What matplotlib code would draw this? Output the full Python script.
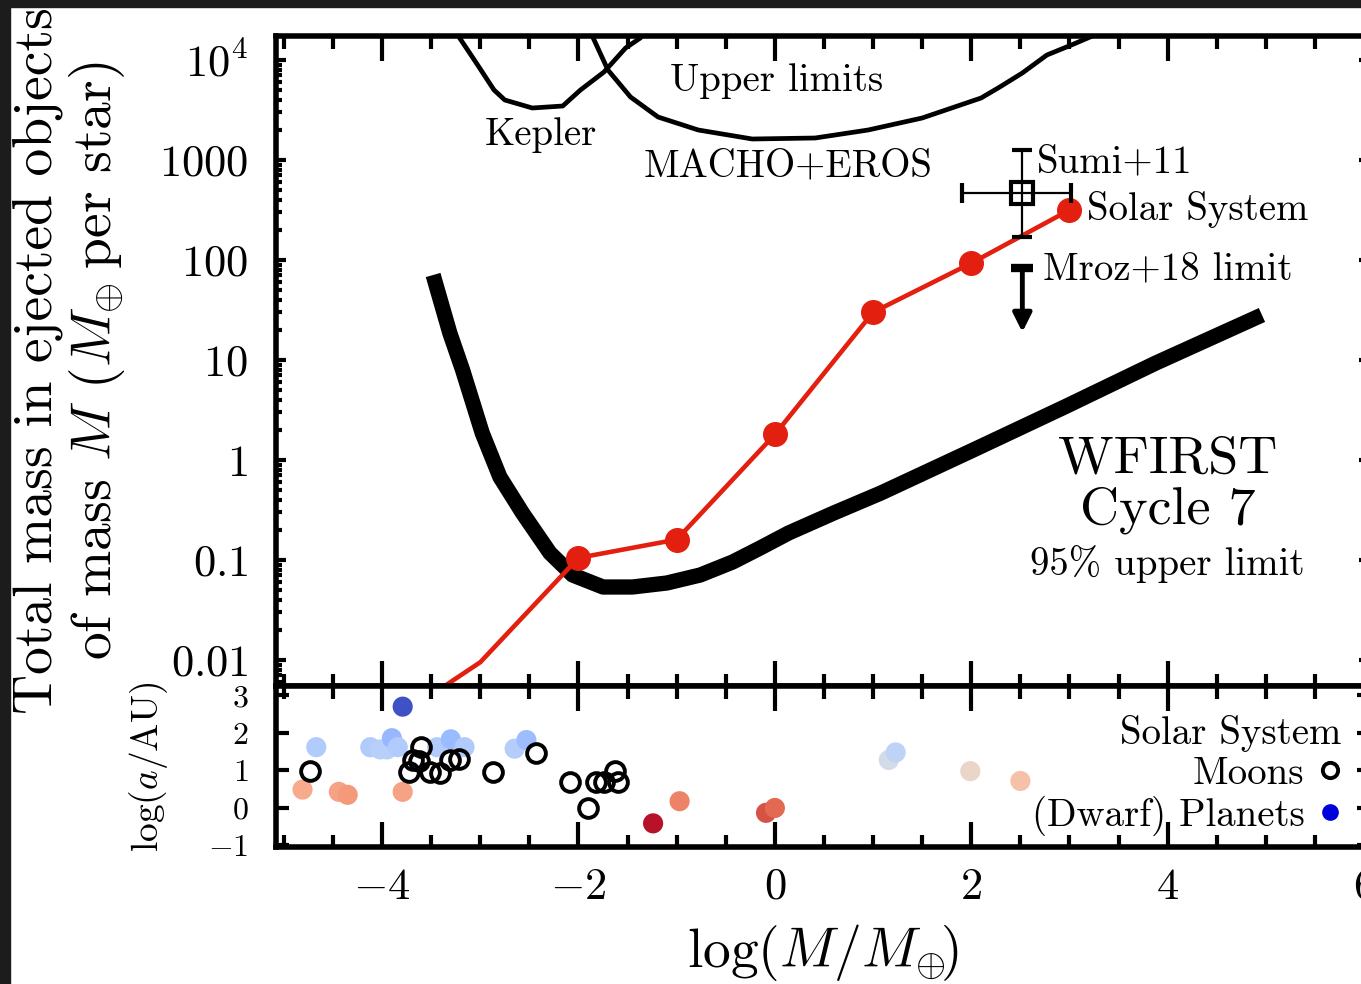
import numpy as np
import matplotlib
matplotlib.use('Agg')
import matplotlib.pyplot as plt
from matplotlib.ticker import FixedLocator, FixedFormatter, LogLocator, NullFormatter, MultipleLocator, FuncFormatter
from matplotlib.lines import Line2D
from matplotlib.patches import Rectangle
from matplotlib.colors import Normalize

plt.rcParams['font.family'] = 'cmr10'
plt.rcParams['mathtext.fontset'] = 'cm'
plt.rcParams['axes.unicode_minus'] = False

# ---- upper panel data: log10(M/Mearth) vs log10(total mass)
kepler_logm = [-3.28, -3.21, -3.04, -2.86, -2.75, -2.47, -2.16, -1.98, -1.74, -1.52, -1.37, -1.30]
kepler_logy = [4.32, 4.22, 3.97, 3.70, 3.60, 3.52, 3.54, 3.70, 3.88, 4.12, 4.22, 4.32]

macho_logm = [-1.90, -1.85, -1.70, -1.47, -1.19, -0.78, -0.23, 0.41, 0.95, 1.50, 2.10, 2.29, 2.52, 2.77, 3.02, 3.21, 3.30]
macho_logy = [4.32, 4.22, 3.90, 3.63, 3.43, 3.30, 3.21, 3.22, 3.30, 3.42, 3.62, 3.73, 3.87, 4.05, 4.15, 4.23, 4.28]

wfirst_logm = [-3.48, -3.31, -3.18, -2.98, -2.80, -2.57, -2.29, -2.06, -1.75, -1.45,
               -1.10, -0.76, -0.43, -0.15, 0.14, 0.60, 1.08, 2.02, 2.95, 3.88, 4.96]
wfirst_logy = [1.85, 1.27, 0.90, 0.27, -0.17, -0.53, -0.93, -1.15, -1.27, -1.27,
               -1.23, -1.15, -1.02, -0.88, -0.73, -0.53, -0.33, 0.10, 0.53, 0.97, 1.45]

ss_logm = [-4, -3, -2, -1, 0, 1, 2, 3]
ss_mass = [0.0021, 0.0095, 0.105, 0.16, 1.8, 30, 93, 316]

sumi_logm, sumi_mass = 2.52, 470
sumi_xerr = [[0.61], [0.50]]
sumi_yerr = [[300], [790]]

mroz_logm, mroz_top, mroz_tip = 2.52, 83, 19

# ---- lower panel data: log mass vs log semimajor axis (AU)
planet_logm = [-1.24, -0.09, 0.0, -0.97, 2.50, 1.99, 1.16, 1.23,
               -4.81, -4.44, -4.35, -3.79, -3.79, -2.65, -2.53,
               -4.67, -4.12, -4.02, -3.95, -3.90, -3.84, -3.44, -3.30, -3.16]
planet_loga = [-0.41, -0.13, 0.0, 0.18, 0.72, 0.98, 1.28, 1.48,
               0.49, 0.43, 0.35, 0.43, 2.70, 1.58, 1.81,
               1.62, 1.62, 1.56, 1.56, 1.86, 1.62, 1.62, 1.83, 1.62]

moon_logm = [-4.73, -3.73, -3.51, -3.41, -3.69, -3.62, -3.31, -3.22, -3.60,
             -2.87, -2.43, -2.09, -1.90, -1.82, -1.74, -1.63, -1.60]
moon_loga = [0.98, 0.97, 0.97, 0.94, 1.28, 1.24, 1.28, 1.30, 1.63,
             0.97, 1.46, 0.70, 0.01, 0.70, 0.70, 0.99, 0.70]

red = '#e3200f'

fig = plt.figure(figsize=(13.61, 9.84), dpi=100)
W, H = 1361., 984.
left, right = 276 / W, 1369 / W
ax1 = fig.add_axes([left, 1 - 686 / H, right - left, (686 - 36) / H])
ax2 = fig.add_axes([left, 1 - 847 / H, right - left, (847 - 686) / H])

# upper panel
ax1.set_yscale('log')
ax1.plot(kepler_logm, 10 ** np.array(kepler_logy), color='k', lw=3.4)
ax1.plot(macho_logm, 10 ** np.array(macho_logy), color='k', lw=3.4)
ax1.plot(wfirst_logm, 10 ** np.array(wfirst_logy), color='k', lw=11,
         solid_capstyle='butt', solid_joinstyle='round')
ax1.plot(ss_logm, ss_mass, color=red, lw=3.3, marker='o', ms=17, markevery=list(range(2, 8)), zorder=5)
ax1.errorbar(sumi_logm, sumi_mass, xerr=sumi_xerr, yerr=sumi_yerr, fmt='s', mfc='none', mec='k',
             ms=16, mew=3, ecolor='k', elinewidth=1.6, capsize=7, capthick=1.6, zorder=6)
ax1.plot([mroz_logm], [mroz_top], marker='_', ms=16, mew=6, color='k')
ax1.annotate('', xy=(mroz_logm, mroz_tip), xytext=(mroz_logm, mroz_top),
             arrowprops=dict(arrowstyle='-|>', lw=3.5, color='k', mutation_scale=28, shrinkA=0, shrinkB=0))

fs = 28
ax1.text(-1.07, 10 ** 3.69, 'Upper limits', fontsize=fs, va='baseline')
ax1.text(-2.95, 10 ** 3.15, 'Kepler', fontsize=fs, va='baseline')
ax1.text(-1.34, 10 ** 2.84, 'MACHO+EROS', fontsize=fs, va='baseline')
ax1.text(2.67, 10 ** 2.88, 'Sumi+11', fontsize=fs, va='baseline')
ax1.text(3.18, 10 ** 2.40, 'Solar System', fontsize=fs, va='baseline')
ax1.text(2.73, 10 ** 1.80, 'Mroz+18 limit', fontsize=fs, va='baseline')
ax1.text(4.0, 10 ** -0.13, 'WFIRST', fontsize=39, va='baseline', ha='center')
ax1.text(4.0, 10 ** -0.63, 'Cycle 7', fontsize=39, va='baseline', ha='center')
ax1.text(4.0, 10 ** -1.15, '95% upper limit', fontsize=fs, va='baseline', ha='center')

ax1.set_ylim(10 ** -2.26, 10 ** 4.24)
yt = [1e-2, 1e-1, 1, 10, 100, 1000, 1e4]
ax1.yaxis.set_major_locator(FixedLocator(yt))
ax1.yaxis.set_major_formatter(FixedFormatter(['$0.01$', '$0.1$', '$1$', '$10$', '$100$', '$1000$', '$10^4$']))
ax1.yaxis.set_minor_locator(LogLocator(base=10, subs=np.arange(2, 10), numticks=30))
ax1.yaxis.set_minor_formatter(NullFormatter())
ax1.set_ylabel('Total mass in ejected objects\nof mass $M$ ($M_{\\oplus}\\!$ per star)', fontsize=40, linespacing=1.1)
ax1.yaxis.set_label_coords(-0.136, 0.5)

# lower panel
norm = Normalize(-0.45, 2.75)
cmap = plt.get_cmap('coolwarm_r')
ax2.scatter(planet_logm, planet_loga, c=cmap(norm(np.array(planet_loga))), s=14.5 ** 2, lw=0, zorder=3)
ax2.plot(moon_logm, moon_loga, ls='none', marker='o', mfc='none', mec='k', ms=13.5, mew=2.8, zorder=4)
ax2.set_ylim(-1.04, 3.25)
ax2.yaxis.set_major_locator(MultipleLocator(1))
ax2.yaxis.set_major_formatter(FuncFormatter(lambda v, p: '$%d$' % round(v)))
ax2.set_ylabel('$\\log(a/\\mathrm{AU})$', fontsize=27)
ax2.yaxis.set_label_coords(-0.097, 0.5)
ax2.set_xlabel('$\\log(M/M_{\\oplus}\\!)$', fontsize=40, labelpad=10)
ax2.xaxis.set_major_formatter(FuncFormatter(lambda v, p: '$%d$' % round(v)))

hnd = [Line2D([], [], ls='none', marker='o', mfc='none', mec='k', ms=11, mew=2.8),
       Line2D([], [], ls='none', marker='o', color='#0000dd', ms=11)]
ax2.legend(hnd, ['Moons', '(Dwarf) Planets'], title='Solar System', alignment='right',
           markerfirst=False, frameon=False, loc='upper right', bbox_to_anchor=(0.975, 0.82),
           fontsize=fs, title_fontsize=fs, handlelength=0.6, handletextpad=0.35,
           labelspacing=0.1, borderpad=0, borderaxespad=0)

for ax in (ax1, ax2):
    ax.set_xlim(-5.08, 6.05)
    ax.xaxis.set_major_locator(MultipleLocator(2))
    ax.xaxis.set_minor_locator(MultipleLocator(0.5))
    for s in ax.spines.values():
        s.set_linewidth(4)
    ax.tick_params(which='both', direction='in', top=True, right=True, width=3, colors='k')
    ax.tick_params(axis='x', which='major', length=18)
    ax.tick_params(axis='x', which='minor', length=9)
ax1.tick_params(axis='y', which='major', length=7, labelsize=32, pad=20)
ax1.tick_params(axis='y', which='minor', length=4)
ax1.tick_params(axis='x', labelbottom=False)
ax2.tick_params(axis='y', which='major', length=9, labelsize=23, pad=20)
ax2.tick_params(axis='x', labelsize=32, pad=15)

# dark frame strips of the screenshot
fig.add_artist(Rectangle((0, 1 - 7 / H), 1, 7 / H, transform=fig.transFigure, color='#1c1c1c', zorder=10))
fig.add_artist(Rectangle((0, 0), 10 / W, 1, transform=fig.transFigure, color='#1c1c1c', zorder=10))

fig.savefig('out.png', dpi=100)
